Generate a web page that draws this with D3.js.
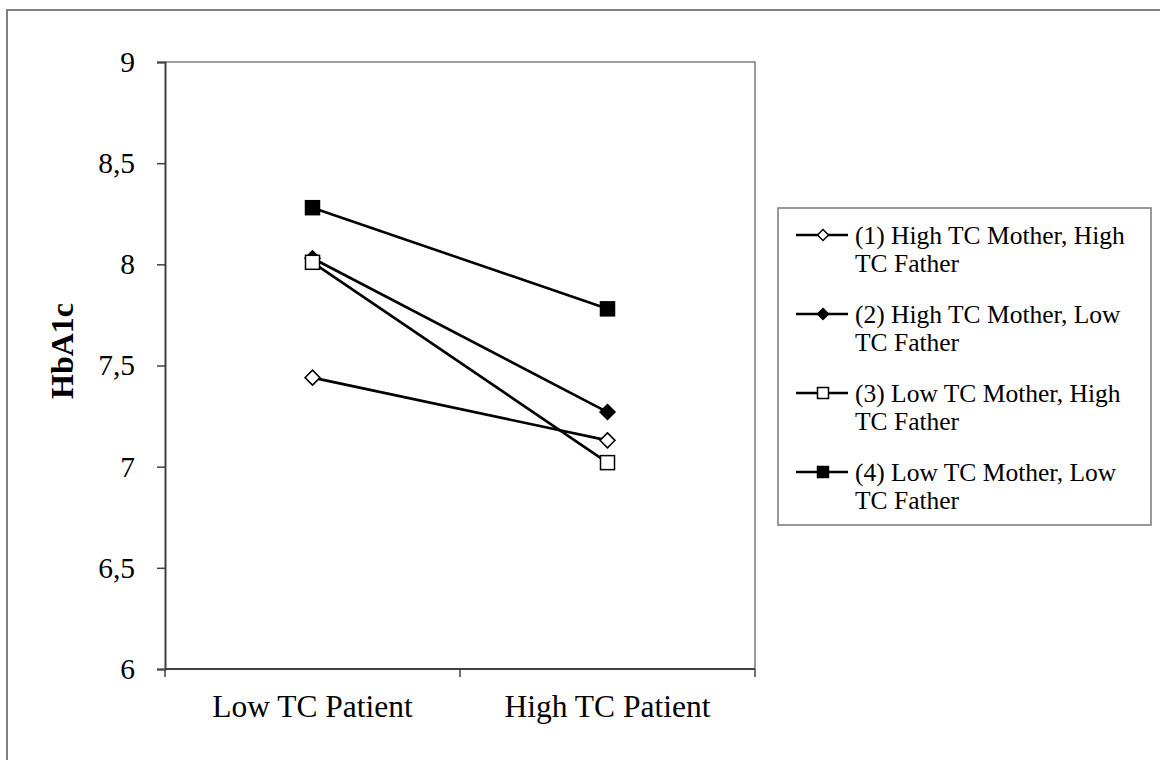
<!DOCTYPE html>
<html>
<head>
<meta charset="utf-8">
<script src="https://cdn.jsdelivr.net/npm/d3@7"></script>
<style>
html,body{margin:0;padding:0;background:#fff;overflow:hidden;}
svg{display:block;}
text{font-family:"Liberation Serif","Times New Roman",serif;fill:#000;}
</style>
</head>
<body>
<svg id="chart" width="1160" height="760"></svg>
<script>
const categories = ["Low TC Patient", "High TC Patient"];
const seriesNames = [
  ["(1) High TC Mother, High", "TC Father"],
  ["(2) High TC Mother, Low", "TC Father"],
  ["(3) Low TC Mother, High", "TC Father"],
  ["(4) Low TC Mother, Low", "TC Father"]
];
const seriesSymbols = ["diamondOpen", "diamondFilled", "squareOpen", "squareFilled"];
const s1 = [7.44, 7.13];
const s2 = [8.03, 7.27];
const s3 = [8.01, 7.02];
const s4 = [8.28, 7.78];
const seriesValues = [s1, s2, s3, s4];
const yTicks = [6, 6.5, 7, 7.5, 8, 8.5, 9];
const yTitle = "HbA1c";

const svg = d3.select("#chart");
const L = 165, R = 755, T = 62, B = 669;

// outer frame
svg.append("rect").attr("x", 7).attr("y", 10).attr("width", 1160).attr("height", 800)
  .attr("fill", "none").attr("stroke", "#808080").attr("stroke-width", 2);

const x = d3.scaleBand().domain(categories).range([L, R]).paddingInner(0).paddingOuter(0);
const y = d3.scaleLinear().domain([6, 9]).range([B, T]);
const fmt = d => String(d).replace(".", ",");

// plot border (top & right)
svg.append("path").attr("d", `M${L},${T}H${R}V${B}`).attr("fill", "none")
  .attr("stroke", "#808080").attr("stroke-width", 1.6);

// y axis
const yAxis = svg.append("g").attr("transform", `translate(${L},0)`)
  .call(d3.axisLeft(y).tickValues(yTicks).tickFormat(fmt).tickSize(8).tickPadding(22));
yAxis.select(".domain").attr("stroke", "#404040").attr("stroke-width", 2);
yAxis.selectAll(".tick line").attr("stroke", "#404040").attr("stroke-width", 1.5);
yAxis.selectAll(".tick text").attr("font-size", 29.5).attr("font-family", '"Liberation Serif",serif').attr("fill", "#000");

// x axis
const xAxis = svg.append("g").attr("transform", `translate(0,${B})`)
  .call(d3.axisBottom(x).tickSize(0).tickPadding(0));
xAxis.select(".domain").attr("d", `M${L},0H${R}`).attr("stroke", "#404040").attr("stroke-width", 2);
xAxis.selectAll(".tick text").attr("font-size", 31.5).attr("font-family", '"Liberation Serif",serif')
  .attr("fill", "#000").attr("dy", null).attr("y", 48);
// category boundary ticks
const bounds = [L].concat(categories.map(c => x(c) + x.bandwidth()));
svg.append("g").selectAll("line").data(bounds).join("line")
  .attr("x1", d => d).attr("x2", d => d).attr("y1", B).attr("y2", B + 8)
  .attr("stroke", "#404040").attr("stroke-width", 1.5);

// y title
svg.append("text").attr("transform", "translate(73,351) rotate(-90)")
  .attr("text-anchor", "middle").attr("font-size", 32).attr("font-weight", "bold").text(yTitle);

function drawSymbol(g, type, cx, cy, s) {
  const h = s / 2;
  if (type.startsWith("diamond")) {
    g.append("path").attr("d", `M${cx},${cy - h}L${cx + h},${cy}L${cx},${cy + h}L${cx - h},${cy}Z`)
      .attr("fill", type.endsWith("Filled") ? "#000" : "#fff").attr("stroke", "#000").attr("stroke-width", 1.5);
  } else {
    g.append("rect").attr("x", cx - h).attr("y", cy - h).attr("width", s).attr("height", s)
      .attr("fill", type.endsWith("Filled") ? "#000" : "#fff").attr("stroke", "#000").attr("stroke-width", 1.5);
  }
}

const cx = c => x(c) + x.bandwidth() / 2;
const line = d3.line().x((d, i) => cx(categories[i])).y(d => y(d));
const gLines = svg.append("g");
seriesValues.forEach(vals => {
  gLines.append("path").attr("d", line(vals)).attr("fill", "none").attr("stroke", "#000").attr("stroke-width", 2.6);
});
const gMarks = svg.append("g");
seriesValues.forEach((vals, si) => {
  vals.forEach((v, i) => {
    const sz = seriesSymbols[si].startsWith("diamond") ? 15 : 14;
    drawSymbol(gMarks, seriesSymbols[si], cx(categories[i]), y(v), sz);
  });
});

// legend
const lg = svg.append("g");
lg.append("rect").attr("x", 778).attr("y", 208).attr("width", 373).attr("height", 317)
  .attr("fill", "#fff").attr("stroke", "#808080").attr("stroke-width", 1.6);
seriesNames.forEach((nm, i) => {
  const yy = 235 + i * 79;
  lg.append("line").attr("x1", 796).attr("x2", 848).attr("y1", yy).attr("y2", yy)
    .attr("stroke", "#000").attr("stroke-width", 2.6);
  drawSymbol(lg, seriesSymbols[i], 823, yy, 11);
  const t = lg.append("text").attr("x", 855).attr("y", yy + 9).attr("font-size", 25.5);
  t.append("tspan").attr("x", 855).text(nm[0]);
  t.append("tspan").attr("x", 855).attr("dy", 28).text(nm[1]);
});
</script>
</body>
</html>
